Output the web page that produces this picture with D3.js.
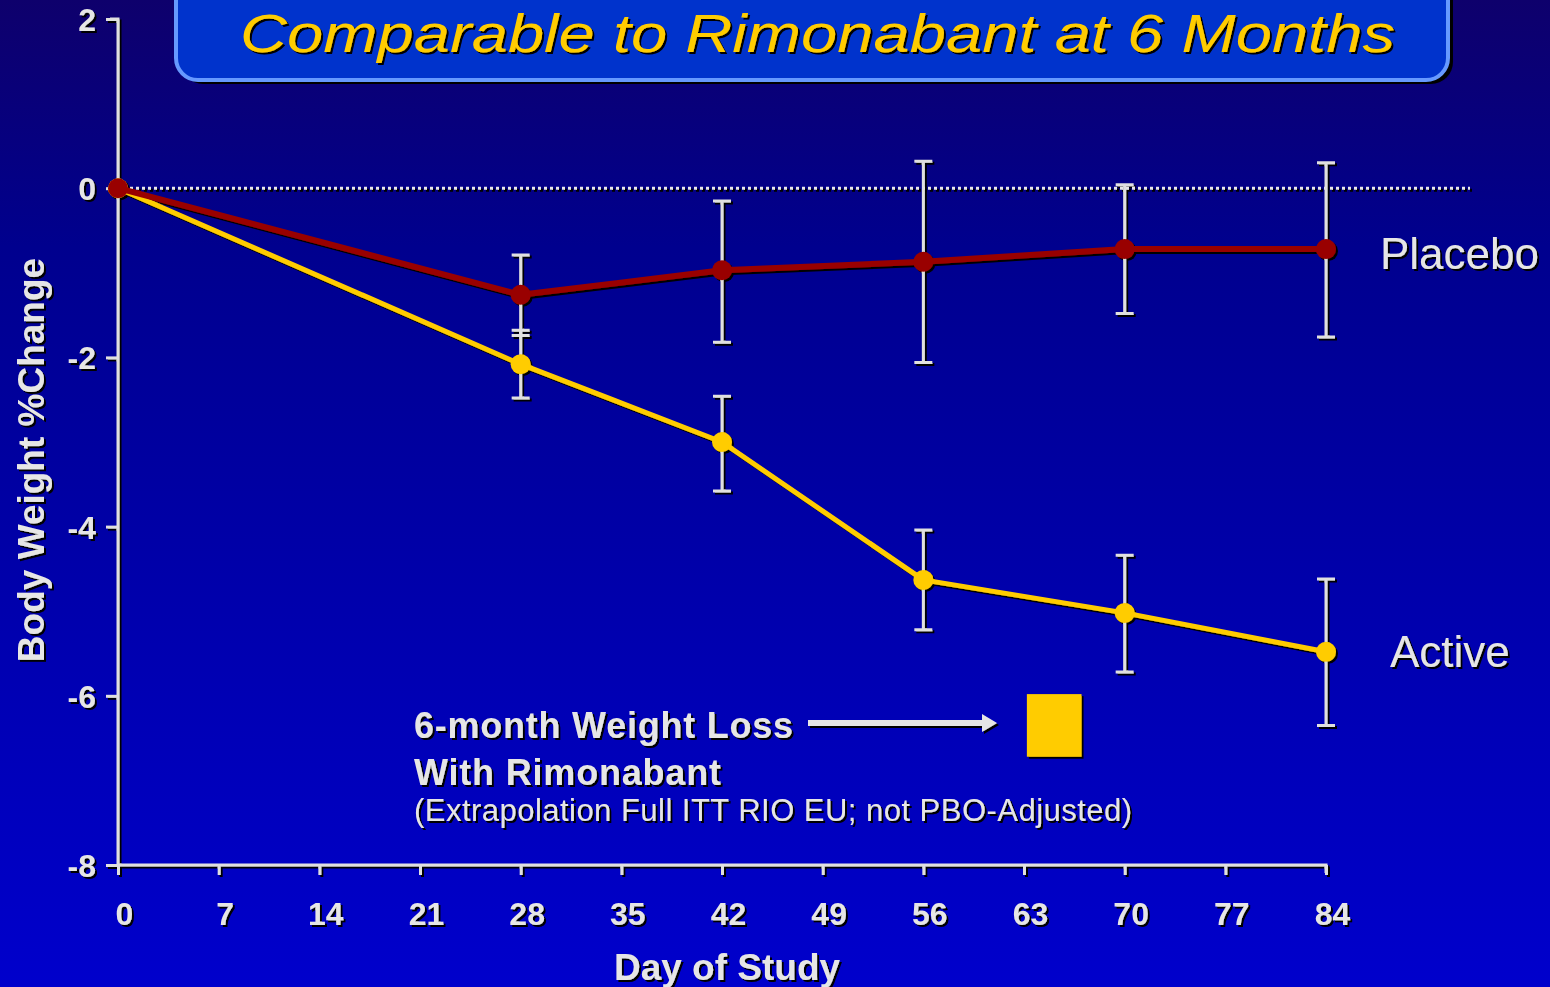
<!DOCTYPE html>
<html>
<head>
<meta charset="utf-8">
<script src="https://d3js.org/d3.v7.min.js"></script>
<style>
  html, body { margin: 0; padding: 0; overflow: hidden; }
  svg { display: block; font-family: "Liberation Sans", Arial, sans-serif; }
</style>
</head>
<body>
<svg id="canvas" width="1550" height="987"></svg>
<script>
  // data
  const days = [0, 28, 42, 56, 70, 84];
  const placebo = [0, -1.26, -0.97, -0.87, -0.72, -0.72];
  const placeboHi = [null, -0.79, -0.15, 0.32, 0.04, 0.30];
  const placeboLo = [null, -1.74, -1.82, -2.06, -1.48, -1.76];
  const active = [0, -2.08, -3.0, -4.63, -5.02, -5.48];
  const activeHi = [null, -1.68, -2.46, -4.04, -4.34, -4.62];
  const activeLo = [null, -2.48, -3.58, -5.22, -5.72, -6.35];
  const xTicks = [0, 7, 14, 21, 28, 35, 42, 49, 56, 63, 70, 77, 84];
  const yTicks = [2, 0, -2, -4, -6, -8];
  // 6-month rimonabant marker: day position and value range of the square
  const rimonabant = { x0: 63.2, x1: 67.0, hi: -5.98, lo: -6.72 };

  const svg = d3.select("svg");
  const W = 1550, H = 987;

  const defs = svg.append("defs");
  const bg = defs.append("linearGradient").attr("id", "bg")
      .attr("x1", 0).attr("y1", 0).attr("x2", 0).attr("y2", 1);
  bg.append("stop").attr("offset", "0").attr("stop-color", "#0e006c");
  bg.append("stop").attr("offset", "0.25").attr("stop-color", "#00008e");
  bg.append("stop").attr("offset", "0.75").attr("stop-color", "#0000b8");
  bg.append("stop").attr("offset", "1").attr("stop-color", "#0000cc");

  const sh = defs.append("filter").attr("id", "shadow")
      .attr("x", "-10%").attr("y", "-10%").attr("width", "130%").attr("height", "130%");
  sh.append("feDropShadow").attr("dx", 2).attr("dy", 2).attr("stdDeviation", 0)
      .attr("flood-color", "#000").attr("flood-opacity", 1);

  svg.append("rect").attr("width", W).attr("height", H).attr("fill", "url(#bg)");

  // title box (its top runs off the slide)
  svg.append("rect")
      .attr("x", 181).attr("y", -40).attr("width", 1272).attr("height", 124)
      .attr("rx", 22).attr("fill", "#000");
  svg.append("rect")
      .attr("x", 176).attr("y", -40).attr("width", 1272).attr("height", 120)
      .attr("rx", 22).attr("fill", "#0033cc")
      .attr("stroke", "#6699ff").attr("stroke-width", 4);
  svg.append("text")
      .attr("x", 240).attr("y", 52)
      .attr("textLength", 1155).attr("lengthAdjust", "spacingAndGlyphs")
      .attr("font-size", 54).attr("font-style", "italic")
      .attr("fill", "#ffcc00").attr("filter", "url(#shadow)")
      .text("Comparable to Rimonabant at 6 Months");

  const x = d3.scaleLinear().domain([0, 84]).range([118, 1326]);
  const y = d3.scaleLinear().domain([-8, 2]).range([865, 19]);

  const g = svg.append("g").attr("filter", "url(#shadow)");

  // zero reference line
  g.append("line")
      .attr("x1", x(0)).attr("x2", 1470).attr("y1", y(0)).attr("y2", y(0))
      .attr("stroke", "#e8e8e8").attr("stroke-width", 3)
      .attr("stroke-dasharray", "3,3");

  // axes
  const yAxis = d3.axisLeft(y).tickValues(yTicks).tickSize(12).tickPadding(10).tickFormat(d => String(d));
  const xAxis = d3.axisBottom(x).tickValues(xTicks).tickSize(10).tickPadding(27);

  const ya = g.append("g").attr("transform", `translate(${x(0)},0)`).call(yAxis);
  const xa = g.append("g").attr("transform", `translate(0,${y(-8)})`).call(xAxis);
  [ya, xa].forEach(a => {
    a.select(".domain").attr("stroke", "#e0e0e0").attr("stroke-width", 3);
    a.selectAll(".tick line").attr("stroke", "#e0e0e0").attr("stroke-width", 3);
    a.selectAll(".tick text").attr("fill", "#e6e6e6").attr("font-size", 32)
        .attr("font-weight", "bold").attr("font-family", "Liberation Sans, Arial, sans-serif");
  });
  ya.select(".domain").attr("d", `M-8,${y(2)}H0V${y(-8)}`);
  xa.select(".domain").attr("d", `M${x(0)},0H${x(84)}V8`);
  ya.selectAll(".tick text").attr("dy", "0.36em");
  xa.selectAll(".tick text").attr("dy", "0.71em").attr("dx", 6);

  // axis titles
  g.append("text")
      .attr("transform", `translate(44,460) rotate(-90)`)
      .attr("text-anchor", "middle").attr("font-size", 37).attr("font-weight", "bold")
      .attr("fill", "#e6e6e6").text("Body Weight %Change");
  g.append("text")
      .attr("x", 727).attr("y", 980).attr("text-anchor", "middle")
      .attr("font-size", 37).attr("font-weight", "bold")
      .attr("fill", "#e6e6e6").text("Day of Study");

  // error bars
  function errorBars(hi, lo) {
    days.forEach((d, i) => {
      if (hi[i] === null) return;
      const cx = x(d);
      g.append("path")
          .attr("d", `M${cx - 9},${y(hi[i])}H${cx + 9}M${cx},${y(hi[i])}V${y(lo[i])}M${cx - 9},${y(lo[i])}H${cx + 9}`)
          .attr("stroke", "#e0e0e0").attr("stroke-width", 3).attr("fill", "none");
    });
  }
  errorBars(placeboHi, placeboLo);
  errorBars(activeHi, activeLo);

  const line = d3.line().x((d, i) => x(days[i])).y(d => y(d));

  function series(vals, color, width) {
    g.append("path").datum(vals).attr("d", line)
        .attr("fill", "none").attr("stroke", color).attr("stroke-width", width)
        .attr("stroke-linejoin", "round");
    g.selectAll(null).data(vals).enter().append("circle")
        .attr("cx", (d, i) => x(days[i])).attr("cy", d => y(d)).attr("r", 10)
        .attr("fill", color);
  }
  series(active, "#ffcc00", 5);
  series(placebo, "#990000", 6);

  // series labels
  g.append("text").attr("x", 1380).attr("y", y(placebo[5]) + 20)
      .attr("font-size", 44).attr("fill", "#e6e6e6").text("Placebo");
  g.append("text").attr("x", 1390).attr("y", y(active[5]) + 15)
      .attr("font-size", 44).attr("fill", "#e6e6e6").text("Active");

  // annotation
  g.append("text").attr("x", 414).attr("y", 738)
      .attr("font-size", 36).attr("font-weight", "bold").attr("fill", "#e6e6e6")
      .attr("textLength", 379).attr("lengthAdjust", "spacing")
      .text("6-month Weight Loss");
  g.append("text").attr("x", 414).attr("y", 785)
      .attr("font-size", 36).attr("font-weight", "bold").attr("fill", "#e6e6e6")
      .attr("textLength", 307).attr("lengthAdjust", "spacing")
      .text("With Rimonabant");
  g.append("text").attr("x", 414).attr("y", 821)
      .attr("font-size", 31).attr("fill", "#e6e6e6")
      .attr("textLength", 718).attr("lengthAdjust", "spacing")
      .text("(Extrapolation Full ITT RIO EU; not PBO-Adjusted)");

  g.append("path")
      .attr("d", "M808,720H982V714L997,723L982,732V726H808Z")
      .attr("fill", "#e6e6e6");

  g.append("rect")
      .attr("x", x(rimonabant.x0)).attr("y", y(rimonabant.hi))
      .attr("width", x(rimonabant.x1) - x(rimonabant.x0))
      .attr("height", y(rimonabant.lo) - y(rimonabant.hi))
      .attr("fill", "#ffcc00");
</script>
</body>
</html>
